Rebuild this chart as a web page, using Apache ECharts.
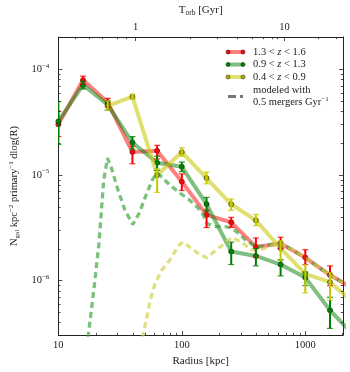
<!DOCTYPE html>
<html><head><meta charset="utf-8">
<script src="https://cdn.jsdelivr.net/npm/echarts@6/dist/echarts.min.js"></script>
<style>html,body{margin:0;padding:0;background:#fff}#c{width:350px;height:372px}</style>
</head><body><div id="c"></div>
<script>
// ---------------- data ----------------
const radii = [10, 15.85, 25.12, 39.81, 63.1, 100, 158.5, 251.2, 398.1, 631, 1000, 1585, 2512];

const redVals  = [3.0e-5, 7.9e-5, 4.85e-5, 1.64e-5, 1.69e-5, 8.6e-6, 4.17e-6, 3.54e-6, 2.07e-6, 2.23e-6, 1.64e-6, 1.12e-6, 8.2e-7];
const redLow   = [2.3e-5, 7.2e-5, 4.4e-5, 1.27e-5, 1.41e-5, 7.1e-6, 3.16e-6, 3.17e-6, 1.66e-6, 2.0e-6, 1.41e-6, 8.9e-7, null];
const redHigh  = [4.0e-5, 8.6e-5, 5.3e-5, 1.86e-5, 1.9e-5, 1.02e-5, 4.64e-6, 3.95e-6, 2.52e-6, 2.56e-6, 1.95e-6, 1.37e-6, null];

const greenVals = [3.2e-5, 7.1e-5, 4.6e-5, 2.02e-5, 1.30e-5, 1.19e-5, 5.27e-6, 1.87e-6, 1.70e-6, 1.41e-6, 1.06e-6, 5.2e-7, 2.95e-7];
const greenLow  = [1.94e-5, 6.5e-5, 4.1e-5, 1.75e-5, 1.1e-5, 1.07e-5, 4.5e-6, 1.41e-6, 1.37e-6, 1.1e-6, 8.9e-7, 3.5e-7, null];
const greenHigh = [4.95e-5, 7.7e-5, 5.0e-5, 2.3e-5, 1.5e-5, 1.32e-5, 6.1e-6, 2.3e-6, 2.0e-6, 1.57e-6, 1.2e-6, 6.9e-7, null];

const yellowVals = [null, null, 4.5e-5, 5.5e-5, 9.9e-6, 1.64e-5, 9.3e-6, 5.25e-6, 3.7e-6, 2.01e-6, 1.15e-6, 9.6e-7, 6.0e-7];
const yellowLow  = [null, null, 4.1e-5, 5.2e-5, 6.8e-6, 1.5e-5, 8.2e-6, 4.6e-6, 3.3e-6, 1.54e-6, 7.6e-7, 6.5e-7, null];
const yellowHigh = [null, null, 5.0e-5, 5.8e-5, 1.14e-5, 1.8e-5, 1.06e-5, 5.9e-6, 4.2e-6, 2.37e-6, 1.4e-6, 1.18e-6, null];

const modelGreenR = [17.0, 19.45, 21.3, 22.5, 23.3, 25.0, 26.9, 30.5, 34.6, 40.0, 45.3, 50.5, 57.3, 62.7, 68.5, 79.1, 94.8, 113.4, 128.5, 145.9, 159.6, 184.4, 220.7, 250, 289, 328, 400, 495, 627, 791, 1000, 1264, 1596, 2017];
const modelGreenV = [2.3e-7, 8.4e-7, 2.2e-6, 5.16e-6, 8.8e-6, 1.44e-5, 1.16e-5, 7.1e-6, 4.64e-6, 3.37e-6, 4.35e-6, 6.12e-6, 8.8e-6, 1.04e-5, 9.58e-6, 8.08e-6, 6.81e-6, 5.87e-6, 5.16e-6, 4.35e-6, 3.44e-6, 3.23e-6, 3.23e-6, 3.16e-6, 2.78e-6, 2.40e-6, 2.07e-6, 2.15e-6, 2.25e-6, 1.94e-6, 1.63e-6, 1.35e-6, 1.11e-6, 9.58e-7];

const modelYellowR = [46.0, 52.3, 55.3, 60.4, 68.5, 79.1, 94.8, 101.8, 113.4, 133.4, 159.6, 177.8, 212.9, 254.7, 305, 365, 453, 542, 627, 791, 1000, 1264, 1596, 2017];
const modelYellowV = [2.3e-7, 4.54e-7, 6.39e-7, 9.18e-7, 1.24e-6, 1.53e-6, 2.15e-6, 2.30e-6, 2.11e-6, 1.82e-6, 1.63e-6, 1.82e-6, 2.15e-6, 2.55e-6, 2.30e-6, 1.94e-6, 1.98e-6, 2.15e-6, 2.25e-6, 1.94e-6, 1.63e-6, 1.35e-6, 1.11e-6, 9.58e-7];

// top axis (orbital time) tick positions, given as radius in kpc
const topMajorR = [41.6, 677];
const topMajorLabels = ['1', '10'];
const topMinorR = [13.6, 17.8, 22.6, 29.6, 35.4, 117.5, 193.6, 280.6, 367.6, 453, 542, 593, 1271, 1778];

const legendLabels = ['1.3 < {i|z} < 1.6', '0.9 < {i|z} < 1.3', '0.4 < {i|z} < 0.9'];

// ---------------- chart ----------------
const FONT = 'Liberation Serif';
const INK = '#222';
const xMin = 10, xMax = 2020, yMin = 3.03e-7, yMax = 2.02e-4;

const chart = echarts.init(document.getElementById('c'), null, {renderer: 'canvas'});

function pts(xs, ys) { const d = []; xs.forEach((x, i) => { if (ys[i] != null) d.push([x, ys[i]]); }); return d; }
function errData(xs, lo, hi) { const d = []; xs.forEach((x, i) => { if (lo[i] != null) d.push([x, lo[i], hi[i]]); }); return d; }

function lineSeries(name, data, color, op, fill, edge, z) {
  return { name, type: 'line', data, z, symbol: 'circle', symbolSize: 5, animation: false, clip: true,
    lineStyle: { color, width: 4, opacity: op },
    itemStyle: { color: fill, borderColor: edge, borderWidth: 0.8, opacity: 0.85 },
    emphasis: { disabled: true } };
}
function dashSeries(data, color, z) {
  return { type: 'line', data, z, symbol: 'none', animation: false, clip: true,
    lineStyle: { color, width: 3.3, type: [6, 4], opacity: 0.65 }, emphasis: { disabled: true } };
}
function errSeries(data, color, z) {
  return { type: 'custom', data, z, clip: true, silent: true, animation: false,
    encode: { x: 0, y: [1, 2] },
    renderItem(params, api) {
      const x = api.value(0);
      const a = api.coord([x, api.value(2)]);
      const b = api.coord([x, api.value(1)]);
      const c = 3;
      return { type: 'group', children: [
        { type: 'line', shape: { x1: a[0], y1: a[1], x2: b[0], y2: b[1] }, style: { stroke: color, lineWidth: 2 } },
        { type: 'line', shape: { x1: a[0] - c, y1: a[1], x2: a[0] + c, y2: a[1] }, style: { stroke: color, lineWidth: 1.2, opacity: 0.8 } },
        { type: 'line', shape: { x1: b[0] - c, y1: b[1], x2: b[0] + c, y2: b[1] }, style: { stroke: color, lineWidth: 1.2, opacity: 0.8 } }
      ] };
    } };
}

function sci(v) {
  const e = Math.round(Math.log10(v));
  return '{b|10}{s|' + (e < 0 ? '\u2212' : '') + Math.abs(e) + '}';
}

const baseText = { fontFamily: FONT, color: INK, fontSize: 10.5 };

const option = {
  backgroundColor: '#fff',
  animation: false,
  grid: { left: 48, right: 7, top: 33, bottom: 34, containLabel: false },
  xAxis: [
    { type: 'log', logBase: 10, min: xMin, max: xMax, position: 'bottom',
      name: 'Radius [kpc]', nameLocation: 'middle', nameGap: 21,
      nameTextStyle: { fontFamily: FONT, color: INK, fontSize: 11 },
      axisLine: { show: true, lineStyle: { color: INK, width: 1 } },
      axisTick: { show: true, inside: true, length: 4, lineStyle: { color: INK, width: 0.8 } },
      axisLabel: Object.assign({ margin: 5, showMinLabel: true, showMaxLabel: false,
        formatter: v => String(Math.round(v)) }, baseText),
      splitLine: { show: false }, minorTick: { show: false } },
    { type: 'log', logBase: 10, min: xMin, max: xMax, position: 'top',
      name: '{n|T}{sub|orb}{n| [Gyr]}', nameLocation: 'middle', nameGap: 20,
      nameTextStyle: { fontFamily: FONT, color: INK, fontSize: 11,
        rich: { n: { fontFamily: FONT, fontSize: 11, color: INK },
                sub: { fontFamily: FONT, fontSize: 7.5, color: INK, padding: [5, 0, 0, 0] } } },
      axisLine: { show: true, lineStyle: { color: INK, width: 1 } },
      axisTick: { show: false }, axisLabel: { show: false }, splitLine: { show: false } }
  ],
  yAxis: [
    { type: 'log', logBase: 10, min: yMin, max: yMax, position: 'left',
      name: '{n|N}{sub|gal}{n| kpc}{sup|\u22122}{n| primary}{sup|\u22121}{n| dlog(R)}',
      nameLocation: 'middle', nameGap: 18, nameRotate: 90,
      nameTextStyle: { fontFamily: FONT, color: INK, fontSize: 10.5,
        rich: { n: { fontFamily: FONT, fontSize: 10.5, color: INK },
                sub: { fontFamily: FONT, fontSize: 7, color: INK, padding: [5, 0, 0, 0] },
                sup: { fontFamily: FONT, fontSize: 7, color: INK, padding: [0, 0, 6, 0] } } },
      axisLine: { show: true, lineStyle: { color: INK, width: 1 } },
      axisTick: { show: true, inside: true, length: 4, lineStyle: { color: INK, width: 0.8 } },
      axisLabel: { margin: 9, showMinLabel: false, showMaxLabel: false, formatter: sci,
        rich: { b: { fontFamily: FONT, fontSize: 10.5, color: INK },
                s: { fontFamily: FONT, fontSize: 7, color: INK, padding: [0, 0, 7, 0] } } },
      splitLine: { show: false } },
    { type: 'log', logBase: 10, min: yMin, max: yMax, position: 'right',
      axisLine: { show: true, lineStyle: { color: INK, width: 1 } },
      axisTick: { show: true, inside: true, length: 4, lineStyle: { color: INK, width: 0.8 } },
      axisLabel: { show: false }, splitLine: { show: false } }
  ],
  series: [
    lineSeries('1.3 < z < 1.6', pts(radii, redVals), '#ff0000', 0.5, '#e00000', '#700000', 2),
    lineSeries('0.9 < z < 1.3', pts(radii, greenVals), '#008000', 0.5, '#007000', '#003000', 3),
    lineSeries('0.4 < z < 0.9', pts(radii, yellowVals), '#cccc10', 0.6, '#a8a800', '#404000', 4),
    dashSeries(pts(modelGreenR, modelGreenV), '#33a033', 5),
    dashSeries(pts(modelYellowR, modelYellowV), '#d0d040', 5),
    errSeries(errData(radii, redLow, redHigh), '#ff0000', 6),
    errSeries(errData(radii, greenLow, greenHigh), '#008000', 6),
    errSeries(errData(radii, yellowLow, yellowHigh), '#c8c800', 6)
  ]
};
chart.setOption(option);

// ---------- minor ticks, top (orbital time) ticks and legend ----------
const px = v => chart.convertToPixel({ xAxisIndex: 0 }, v);
const py = v => chart.convertToPixel({ yAxisIndex: 0 }, v);
const L = px(xMin), R = px(xMax), T = py(yMax), B = py(yMin);
const g = [];
const tick = (x1, y1, x2, y2) => g.push({ type: 'line', silent: true, z: 10,
  shape: { x1, y1, x2, y2 }, style: { stroke: INK, lineWidth: 0.8 } });

// x minor ticks (bottom)
[1, 2, 3].forEach(e => { for (let k = 2; k <= 9; k++) { const v = k * Math.pow(10, e);
  if (v > xMin && v < xMax) { const x = Math.round(px(v)) + 0.5; tick(x, B, x, B - 2.2); } } });
// y minor ticks (left and right)
[-7, -6, -5, -4].forEach(e => { for (let k = 2; k <= 9; k++) { const v = k * Math.pow(10, e);
  if (v > yMin && v < yMax) { const y = Math.round(py(v)) + 0.5; tick(L, y, L + 2.2, y); tick(R, y, R - 2.2, y); } } });
// top axis ticks & labels
topMinorR.forEach(r => { const x = Math.round(px(r)) + 0.5; tick(x, T, x, T + 2.2); });
topMajorR.forEach((r, i) => { const x = Math.round(px(r)) + 0.5; tick(x, T, x, T + 4);
  g.push({ type: 'text', silent: true, z: 10, x, y: T - 4,
    style: { text: topMajorLabels[i], fontFamily: FONT, fontSize: 10.5, fill: INK, align: 'center', verticalAlign: 'bottom' } }); });

// legend
const legColors = [['#ff0000', '#e00000', '#700000', 0.5], ['#008000', '#007000', '#003000', 0.5], ['#cccc10', '#a8a800', '#404000', 0.6]];
const legX0 = 228, legX1 = 243, legTx = 253, legRows = [52, 64.5, 77];
legendLabels.forEach((lab, i) => {
  const y = legRows[i], c = legColors[i];
  g.push({ type: 'line', silent: true, z: 10, shape: { x1: legX0, y1: y, x2: legX1, y2: y },
    style: { stroke: c[0], lineWidth: 4, opacity: c[3] } });
  [legX0, legX1].forEach(x => g.push({ type: 'circle', silent: true, z: 11, shape: { cx: x, cy: y, r: 2 },
    style: { fill: c[1], stroke: c[2], lineWidth: 0.7, opacity: 0.9 } }));
  g.push({ type: 'text', silent: true, z: 10, x: legTx, y,
    style: { text: lab, fontFamily: FONT, fontSize: 10.5, fill: INK, verticalAlign: 'middle',
      rich: { i: { fontFamily: FONT, fontSize: 10.5, fontStyle: 'italic', fill: INK } } } });
});
g.push({ type: 'line', silent: true, z: 10, shape: { x1: legX0, y1: 96.5, x2: legX1, y2: 96.5 },
  style: { stroke: '#777', lineWidth: 3, lineDash: [8, 4] } });
g.push({ type: 'text', silent: true, z: 10, x: legTx, y: 90,
  style: { text: 'modeled with', fontFamily: FONT, fontSize: 10.5, fill: INK, verticalAlign: 'middle' } });
g.push({ type: 'text', silent: true, z: 10, x: legTx, y: 102,
  style: { text: '0.5 mergers Gyr{s|\u22121}', fontFamily: FONT, fontSize: 10.5, fill: INK, verticalAlign: 'middle',
    rich: { s: { fontFamily: FONT, fontSize: 7, fill: INK, padding: [0, 0, 6, 0] } } } });

chart.setOption({ graphic: { elements: g } });
</script>
</body></html>
